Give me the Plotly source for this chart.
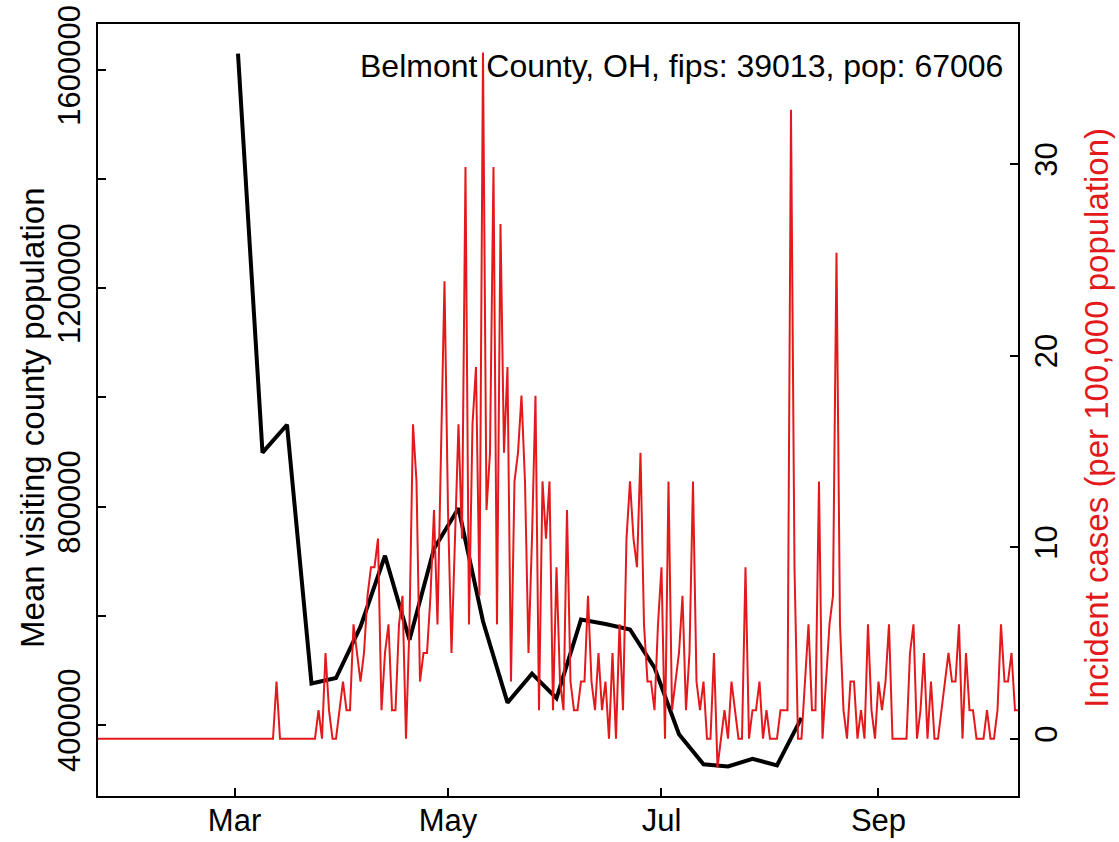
import pandas as pd
import plotly.graph_objects as go

# ---------------- data ----------------
county_label = "Belmont County, OH, fips: 39013, pop: 67006"
population = 67006

# weekly mean visiting county population (black line)
week_dates = ["2020-03-02", "2020-03-09", "2020-03-16", "2020-03-23", "2020-03-30",
              "2020-04-06", "2020-04-13", "2020-04-20", "2020-04-27", "2020-05-04",
              "2020-05-11", "2020-05-18", "2020-05-25", "2020-06-01", "2020-06-08",
              "2020-06-15", "2020-06-22", "2020-06-29", "2020-07-06", "2020-07-13",
              "2020-07-20", "2020-07-27", "2020-08-03", "2020-08-10"]
mean_visiting_pop = [1630000, 899000, 950000, 476000, 486000,
                     580000, 710000, 556000, 723000, 797000,
                     590000, 441000, 494000, 449000, 593000,
                     585000, 575000, 505000, 383000, 328000,
                     324000, 338000, 326000, 413000]

# daily new cases, starting 2020-01-22 (red line)
first_case_date = "2020-01-22"
daily_cases = (
    # Jan 22 - Feb 29
    [0] * 39
    # Mar 1 - Mar 31
    + [0, 0, 0, 0, 0, 0, 0, 0, 0, 0, 0, 0, 2, 0, 0, 0, 0, 0, 0, 0,
       0, 0, 0, 0, 1, 0, 3, 1, 0, 0, 1]
    # Apr 1 - Apr 30
    + [2, 1, 1, 4, 3, 2, 3, 5, 6, 6, 7, 1, 3, 4, 1, 1, 4, 5, 0, 4,
       11, 9, 2, 3, 3, 5, 8, 4, 10, 16]
    # May 1 - May 31
    + [8, 3, 7, 11, 7, 20, 4, 11, 13, 5, 24, 8, 10, 20, 4, 18, 10, 13, 2, 9,
       10, 12, 9, 3, 7, 12, 1, 9, 7, 9, 1]
    # Jun 1 - Jun 30
    + [6, 2, 1, 8, 2, 1, 1, 2, 2, 5, 2, 1, 3, 1, 2, 0, 3, 0, 4, 1,
       7, 9, 7, 6, 10, 4, 2, 2, 1, 4]
    # Jul 1 - Jul 31
    + [6, 0, 9, 1, 2, 3, 5, 1, 3, 9, 2, 1, 2, 0, 0, 3, -1, 0, 1, 0,
       2, 1, 0, 0, 6, 0, 1, 1, 2, 0, 1]
    # Aug 1 - Aug 31
    + [0, 0, 0, 1, 1, 1, 22, 6, 0, 0, 2, 4, 1, 1, 9, 0, 2, 4, 5, 17,
       4, 1, 0, 2, 2, 0, 1, 0, 4, 1, 0]
    # Sep 1 - Sep 30
    + [2, 1, 2, 4, 0, 0, 0, 0, 0, 3, 4, 0, 1, 3, 0, 2, 0, 0, 1, 2,
       3, 2, 2, 4, 0, 3, 1, 1, 0, 0]
    # Oct 1 - Oct 11
    + [0, 1, 0, 0, 1, 4, 2, 2, 3, 1, 1]
)

x_tick_vals = ["2020-03-01", "2020-05-01", "2020-07-01", "2020-09-01"]
x_tick_text = ["Mar", "May", "Jul", "Sep"]
left_tick_vals = [400000, 600000, 800000, 1000000, 1200000, 1400000, 1600000]
left_tick_text = ["400000", "", "800000", "", "1200000", "", "1600000"]
right_tick_vals = [0, 10, 20, 30]

# ---------------- derived ----------------
case_dates = pd.date_range(first_case_date, periods=len(daily_cases), freq="D")
incidence = [c / population * 100000 for c in daily_cases]

RED = "#E3191C"
FONT = "Liberation Sans, Arial, sans-serif"
TICK_FS = 31
TITLE_FS = 32
LAB_FS = 33

fig = go.Figure()
fig.add_trace(go.Scatter(x=pd.to_datetime(week_dates), y=mean_visiting_pop, mode="lines",
                         line=dict(color="black", width=4), yaxis="y", showlegend=False))
fig.add_trace(go.Scatter(x=case_dates, y=incidence, mode="lines",
                         line=dict(color=RED, width=2), yaxis="y2", showlegend=False))

axis_common = dict(showgrid=False, zeroline=False, ticks="inside", ticklen=8,
                   tickwidth=1.5, tickcolor="black", showline=True, linecolor="black",
                   linewidth=1.5, automargin=False,
                   tickfont=dict(family=FONT, size=TICK_FS, color="black"))

fig.update_layout(
    width=1119, height=842,
    margin=dict(l=98, r=101, t=24, b=46, autoexpand=False),
    paper_bgcolor="white", plot_bgcolor="white",
    font=dict(family=FONT, size=TICK_FS, color="black"),
    xaxis=dict(type="date", range=["2020-01-22", "2020-10-10 20:40"],
               tickmode="array", tickvals=x_tick_vals, ticktext=x_tick_text,
               mirror=True, ticklabelstandoff=-4, **axis_common),
    yaxis=dict(range=[269900, 1684200], tickmode="array", tickvals=left_tick_vals,
               ticktext=left_tick_text, tickangle=-90, mirror=True,
               ticklabelstandoff=4, **axis_common),
    yaxis2=dict(range=[-2.99, 37.31], overlaying="y", side="right", tickmode="array",
                tickvals=right_tick_vals, tickangle=-90, **axis_common),
    annotations=[
        dict(text=county_label, xref="paper", yref="paper", x=0.986, y=0.9456,
             xanchor="right", yanchor="middle", showarrow=False,
             font=dict(family=FONT, size=TITLE_FS, color="black")),
        dict(text="Mean visiting county population", xref="paper", yref="paper",
             x=-0.0715, y=0.49, xanchor="center", yanchor="middle", textangle=-90,
             showarrow=False, font=dict(family=FONT, size=LAB_FS, color="black")),
        dict(text="Incident cases (per 100,000 population)", xref="paper", yref="paper",
             x=1.0859, y=0.49, xanchor="center", yanchor="middle", textangle=-90,
             showarrow=False, font=dict(family=FONT, size=LAB_FS, color=RED)),
    ],
)

fig.write_html("out.html", config={"displayModeBar": False},
               post_script="document.body.style.margin='0';document.body.style.overflow='hidden';")
